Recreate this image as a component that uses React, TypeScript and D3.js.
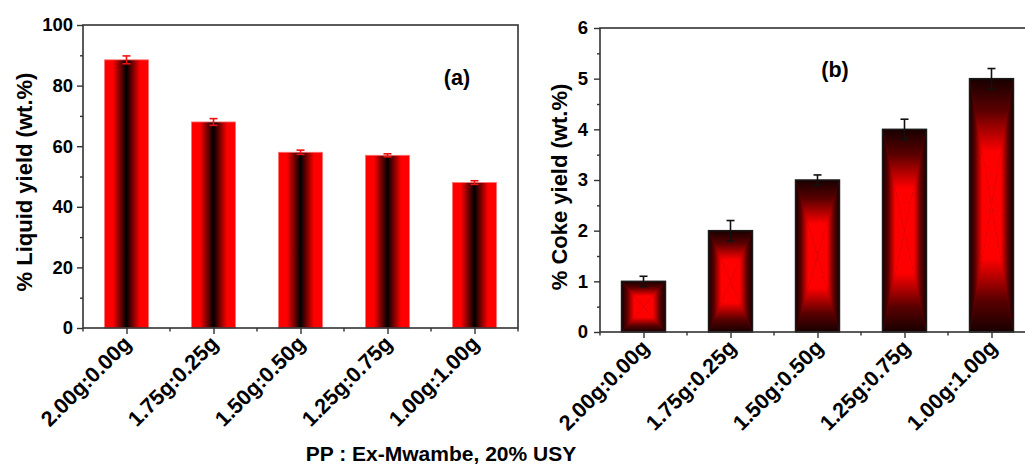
import React, { useEffect, useRef } from "react";
import * as d3 from "d3";

const categories = ["2.00g:0.00g", "1.75g:0.25g", "1.50g:0.50g", "1.25g:0.75g", "1.00g:1.00g"];
const liquidYield = [88.5, 68, 58, 57, 48];
const liquidErr = [1.3, 1.1, 0.7, 0.5, 0.6];
const cokeYield = [1, 2, 3, 4, 5];
const cokeErr = [0.1, 0.2, 0.1, 0.2, 0.2];
const liquidTicks = [0, 20, 40, 60, 80, 100];
const liquidMinor = [10, 30, 50, 70, 90];
const cokeTicks = [0, 1, 2, 3, 4, 5, 6];
const cokeMinor = [0.5, 1.5, 2.5, 3.5, 4.5, 5.5];

const FONT = "Arial, 'Liberation Sans', sans-serif";
const AXIS = "#333333";

export default function App() {
  const ref = useRef<SVGSVGElement | null>(null);

  useEffect(() => {
    const svg = d3.select(ref.current);
    svg.selectAll("*").remove();
    const defs = svg.append("defs");

    // left bars: horizontal red-black-red gradient
    const gl = defs.append("linearGradient").attr("id", "gLiquid").attr("x1", 0).attr("y1", 0).attr("x2", 1).attr("y2", 0);
    [
      [0, "#ff0000"], [0.19, "#ff0000"], [0.5, "#000000"], [0.81, "#ff0000"], [1, "#ff0000"],
    ].forEach(([o, c]) => gl.append("stop").attr("offset", o as number).attr("stop-color", c as string));

    // right bars: box gradient built from 4 triangles
    const dirs: Record<string, number[]> = {
      gTop: [0, 0, 0, 1],
      gBot: [0, 1, 0, 0],
      gLeft: [0, 0, 1, 0],
      gRight: [1, 0, 0, 0],
    };
    Object.entries(dirs).forEach(([id, [x1, y1, x2, y2]]) => {
      const g = defs.append("linearGradient").attr("id", id).attr("x1", x1).attr("y1", y1).attr("x2", x2).attr("y2", y2);
      [
        [0, "#180000"], [0.25, "#5a0000"], [0.58, "#ff0000"], [1, "#ff0000"],
      ].forEach(([o, c]) => g.append("stop").attr("offset", o as number).attr("stop-color", c as string));
    });

    type Panel = {
      left: number; right: number; top: number; bottom: number;
      domain: [number, number]; ticks: number[]; minor: number[];
      values: number[]; errs: number[]; ylabel: string; ylabelX: number; ylabelY: number;
      tag: string; tagX: number; tagY: number; kind: "liquid" | "coke";
      labelDx: number; labelDy: number; tickPad: number;
    };

    const drawPanel = (p: Panel) => {
      const g = svg.append("g");
      const x = d3.scalePoint<string>().domain(categories).range([p.left, p.right]).padding(0.5);
      const step = x.step();
      const bw = step * 0.505;
      const y = d3.scaleLinear().domain(p.domain).range([p.bottom, p.top]);

      // bars
      categories.forEach((c, i) => {
        const cx = x(c)!;
        const x0 = cx - bw / 2, x1 = cx + bw / 2;
        const y0 = y(p.values[i]), y1 = y(0);
        if (p.kind === "liquid") {
          g.append("rect").attr("x", x0).attr("y", y0).attr("width", bw).attr("height", y1 - y0)
            .attr("fill", "url(#gLiquid)").attr("stroke", "#ff7070").attr("stroke-width", 0.8);
        } else {
          const cy = (y0 + y1) / 2;
          g.append("rect").attr("x", x0).attr("y", y0).attr("width", bw).attr("height", y1 - y0).attr("fill", "#8a0000");
          const tri = (pts: number[][], fill: string) =>
            g.append("path").attr("d", d3.line()(pts as [number, number][]) + "Z").attr("fill", fill);
          tri([[x0, y0], [x1, y0], [cx, cy]], "url(#gTop)");
          tri([[x0, y1], [x1, y1], [cx, cy]], "url(#gBot)");
          tri([[x0, y0], [x0, y1], [cx, cy]], "url(#gLeft)");
          tri([[x1, y0], [x1, y1], [cx, cy]], "url(#gRight)");
          g.append("rect").attr("x", x0).attr("y", y0).attr("width", bw).attr("height", y1 - y0)
            .attr("fill", "none").attr("stroke", "#1a1a1a").attr("stroke-width", 1.5);
        }
      });

      // error bars
      const ec = p.kind === "liquid" ? "#ee1111" : "#111111";
      categories.forEach((c, i) => {
        const cx = x(c)!;
        const hi = y(p.values[i] + p.errs[i]);
        const lo = y(p.values[i] - p.errs[i]);
        g.append("line").attr("x1", cx).attr("x2", cx).attr("y1", hi).attr("y2", lo).attr("stroke", ec).attr("stroke-width", 1.6);
        [hi, lo].forEach((yy) =>
          g.append("line").attr("x1", cx - 4).attr("x2", cx + 4).attr("y1", yy).attr("y2", yy).attr("stroke", ec).attr("stroke-width", 1.6));
      });

      // frame
      g.append("rect").attr("x", p.left).attr("y", p.top).attr("width", p.right - p.left).attr("height", p.bottom - p.top)
        .attr("fill", "none").attr("stroke", AXIS).attr("stroke-width", 1.6);

      // y axis
      const ya = g.append("g").attr("transform", `translate(${p.left},0)`)
        .call(d3.axisLeft(y).tickValues(p.ticks).tickSize(6).tickSizeOuter(0).tickPadding(p.tickPad).tickFormat(d3.format("d")));
      ya.select(".domain").remove();
      ya.selectAll("line").attr("stroke", AXIS).attr("stroke-width", 1.4);
      ya.selectAll("text").attr("font-family", FONT).attr("font-weight", "bold").attr("font-size", 18.5).attr("fill", "#000");
      const ym = g.append("g").attr("transform", `translate(${p.left},0)`)
        .call(d3.axisLeft(y).tickValues(p.minor).tickSize(3).tickSizeOuter(0).tickFormat(() => ""));
      ym.select(".domain").remove();
      ym.selectAll("line").attr("stroke", AXIS).attr("stroke-width", 1.4);

      // x axis
      const xa = g.append("g").attr("transform", `translate(0,${p.bottom})`)
        .call(d3.axisBottom(x).tickSize(6).tickSizeOuter(0).tickFormat(() => ""));
      xa.select(".domain").remove();
      xa.selectAll("line").attr("stroke", AXIS).attr("stroke-width", 1.4);
      const minorX = [p.left, ...categories.map((c) => x(c)! + step / 2)];
      minorX.forEach((mx) =>
        g.append("line").attr("x1", mx).attr("x2", mx).attr("y1", p.bottom).attr("y2", p.bottom + 3.5)
          .attr("stroke", AXIS).attr("stroke-width", 1.4));
      categories.forEach((c) => {
        const tx = x(c)! + p.labelDx, ty = p.bottom + p.labelDy;
        g.append("text").attr("transform", `translate(${tx},${ty}) rotate(-45)`)
          .attr("text-anchor", "end").attr("font-family", FONT).attr("font-weight", "bold")
          .attr("font-size", 21.5).attr("fill", "#000").text(c);
      });

      // y label
      g.append("text").attr("transform", `translate(${p.ylabelX},${p.ylabelY}) rotate(-90)`)
        .attr("text-anchor", "middle").attr("dominant-baseline", "central")
        .attr("font-family", FONT).attr("font-weight", "bold").attr("font-size", 22).attr("fill", "#000").text(p.ylabel);

      // tag
      g.append("text").attr("x", p.tagX).attr("y", p.tagY).attr("text-anchor", "middle")
        .attr("font-family", FONT).attr("font-weight", "bold").attr("font-size", 21.5).attr("fill", "#000").text(p.tag);
    };

    drawPanel({
      left: 83, right: 518, top: 25, bottom: 328, domain: [0, 100], ticks: liquidTicks, minor: liquidMinor,
      values: liquidYield, errs: liquidErr, ylabel: "% Liquid yield (wt.%)", ylabelX: 24, ylabelY: 182,
      tag: "(a)", tagX: 457, tagY: 85, kind: "liquid", labelDx: 6, labelDy: 17, tickPad: 4,
    });
    drawPanel({
      left: 600, right: 1035, top: 28, bottom: 332, domain: [0, 6], ticks: cokeTicks, minor: cokeMinor,
      values: cokeYield, errs: cokeErr, ylabel: "% Coke yield (wt.%)", ylabelX: 559, ylabelY: 187,
      tag: "(b)", tagX: 835, tagY: 77, kind: "coke", labelDx: 7, labelDy: 17, tickPad: 6,
    });

    svg.append("text").attr("x", 441).attr("y", 461).attr("text-anchor", "middle")
      .attr("font-family", FONT).attr("font-weight", "bold").attr("font-size", 21).attr("fill", "#000")
      .text("PP : Ex-Mwambe, 20% USY");
  }, []);

  return (
    <svg ref={ref} width={1025} height={465}
      style={{ position: "absolute", left: 0, top: 0, display: "block", background: "#fff" }} />
  );
}
